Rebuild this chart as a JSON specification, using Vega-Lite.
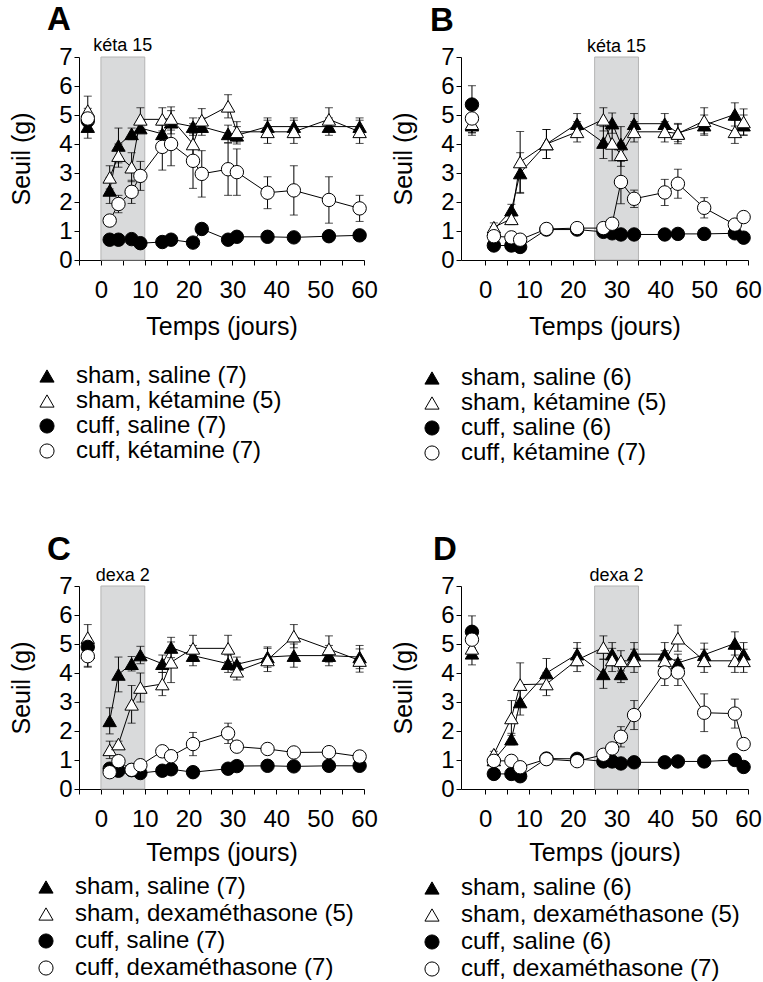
{
"$schema": "https://vega.github.io/schema/vega-lite/v6.json",
"background": "white",
"padding": {"left": 9, "top": 4, "right": 2, "bottom": 2},
"bounds": "flush",
"columns": 2,
"spacing": {"row": 326, "column": 97},
"config": {
  "view": {"stroke": null},
  "font": "Liberation Sans",
  "axis": {"grid": false, "domainColor": "black", "tickColor": "black", "labelColor": "black", "titleColor": "black", "labelFont": "Liberation Sans", "titleFont": "Liberation Sans", "labelFontSize": 24, "titleFontSize": 25, "titleFontWeight": "normal", "domainWidth": 1, "tickWidth": 1, "tickSize": 5, "labelOverlap": false, "labelFlush": false},
  "axisX": {"labelPadding": 13, "titlePadding": 12},
  "axisY": {"labelPadding": 2, "titlePadding": 24},
  "legend": {"labelFont": "Liberation Sans", "labelFontSize": 24, "labelColor": "black", "symbolSize": 200, "symbolStrokeColor": "black", "symbolStrokeWidth": 1, "symbolOpacity": 1, "labelOffset": 17, "rowPadding": 3, "padding": 0, "labelLimit": 500},
  "title": {"font": "Liberation Sans", "fontSize": 33, "fontWeight": "bold", "color": "black", "anchor": "start", "frame": "group", "offset": 0}
},
"datasets": {
  "A": [
    {"s":"sham, saline (7)","d":-3,"v":4.6,"e":0.4},{"s":"sham, saline (7)","d":2,"v":2.4,"e":0.45},{"s":"sham, saline (7)","d":4,"v":3.95,"e":0.6},{"s":"sham, saline (7)","d":7,"v":4.35,"e":0.2},{"s":"sham, saline (7)","d":9,"v":4.55,"e":0.15},{"s":"sham, saline (7)","d":14,"v":4.35,"e":0.3},{"s":"sham, saline (7)","d":16,"v":4.75,"e":0.4},{"s":"sham, saline (7)","d":21,"v":4.6,"e":0.3},{"s":"sham, saline (7)","d":23,"v":4.6,"e":0.3},{"s":"sham, saline (7)","d":29,"v":4.35,"e":0.3},{"s":"sham, saline (7)","d":31,"v":4.3,"e":0.3},{"s":"sham, saline (7)","d":38,"v":4.6,"e":0.3},{"s":"sham, saline (7)","d":44,"v":4.6,"e":0.3},{"s":"sham, saline (7)","d":52,"v":4.6,"e":0.3},{"s":"sham, saline (7)","d":59,"v":4.6,"e":0.3},
    {"s":"sham, kétamine (5)","d":-3,"v":5.15,"e":0.5},{"s":"sham, kétamine (5)","d":2,"v":2.85,"e":0.4},{"s":"sham, kétamine (5)","d":4,"v":3.6,"e":0.4},{"s":"sham, kétamine (5)","d":7,"v":3.2,"e":0.5},{"s":"sham, kétamine (5)","d":9,"v":4.85,"e":0.4},{"s":"sham, kétamine (5)","d":14,"v":4.85,"e":0.4},{"s":"sham, kétamine (5)","d":16,"v":4.88,"e":0.4},{"s":"sham, kétamine (5)","d":21,"v":4.0,"e":0.7},{"s":"sham, kétamine (5)","d":23,"v":4.82,"e":0.4},{"s":"sham, kétamine (5)","d":29,"v":5.3,"e":0.4},{"s":"sham, kétamine (5)","d":31,"v":4.42,"e":0.35},{"s":"sham, kétamine (5)","d":38,"v":4.42,"e":0.4},{"s":"sham, kétamine (5)","d":44,"v":4.42,"e":0.4},{"s":"sham, kétamine (5)","d":52,"v":4.85,"e":0.4},{"s":"sham, kétamine (5)","d":59,"v":4.42,"e":0.4},
    {"s":"cuff, saline (7)","d":-3,"v":4.8,"e":0.1},{"s":"cuff, saline (7)","d":2,"v":0.7,"e":0.1},{"s":"cuff, saline (7)","d":4,"v":0.7,"e":0.1},{"s":"cuff, saline (7)","d":7,"v":0.72,"e":0.1},{"s":"cuff, saline (7)","d":9,"v":0.58,"e":0.1},{"s":"cuff, saline (7)","d":14,"v":0.62,"e":0.1},{"s":"cuff, saline (7)","d":16,"v":0.7,"e":0.1},{"s":"cuff, saline (7)","d":21,"v":0.6,"e":0.1},{"s":"cuff, saline (7)","d":23,"v":1.07,"e":0.1},{"s":"cuff, saline (7)","d":29,"v":0.7,"e":0.1},{"s":"cuff, saline (7)","d":31,"v":0.8,"e":0.1},{"s":"cuff, saline (7)","d":38,"v":0.8,"e":0.1},{"s":"cuff, saline (7)","d":44,"v":0.78,"e":0.1},{"s":"cuff, saline (7)","d":52,"v":0.82,"e":0.1},{"s":"cuff, saline (7)","d":59,"v":0.85,"e":0.1},
    {"s":"cuff, kétamine (7)","d":-3,"v":4.88,"e":0.35},{"s":"cuff, kétamine (7)","d":2,"v":1.36,"e":0.15},{"s":"cuff, kétamine (7)","d":4,"v":1.93,"e":0.3},{"s":"cuff, kétamine (7)","d":7,"v":2.35,"e":0.4},{"s":"cuff, kétamine (7)","d":9,"v":2.9,"e":0.5},{"s":"cuff, kétamine (7)","d":14,"v":3.9,"e":0.8},{"s":"cuff, kétamine (7)","d":16,"v":4.0,"e":0.75},{"s":"cuff, kétamine (7)","d":21,"v":3.42,"e":0.95},{"s":"cuff, kétamine (7)","d":23,"v":2.97,"e":0.8},{"s":"cuff, kétamine (7)","d":29,"v":3.13,"e":0.9},{"s":"cuff, kétamine (7)","d":31,"v":3.03,"e":0.8},{"s":"cuff, kétamine (7)","d":38,"v":2.32,"e":0.55},{"s":"cuff, kétamine (7)","d":44,"v":2.4,"e":0.85},{"s":"cuff, kétamine (7)","d":52,"v":2.07,"e":0.8},{"s":"cuff, kétamine (7)","d":59,"v":1.78,"e":0.45}
  ],
  "B": [
    {"s":"sham, saline (6)","d":-3,"v":4.65,"e":0.35},{"s":"sham, saline (6)","d":2,"v":1.05,"e":0.1},{"s":"sham, saline (6)","d":6,"v":1.72,"e":0.2},{"s":"sham, saline (6)","d":8,"v":3.0,"e":0.7},{"s":"sham, saline (6)","d":14,"v":4.0,"e":0.5},{"s":"sham, saline (6)","d":21,"v":4.7,"e":0.35},{"s":"sham, saline (6)","d":27,"v":4.05,"e":0.55},{"s":"sham, saline (6)","d":29,"v":4.72,"e":0.35},{"s":"sham, saline (6)","d":31,"v":4.0,"e":0.6},{"s":"sham, saline (6)","d":34,"v":4.7,"e":0.35},{"s":"sham, saline (6)","d":41,"v":4.7,"e":0.35},{"s":"sham, saline (6)","d":44,"v":4.38,"e":0.3},{"s":"sham, saline (6)","d":50,"v":4.65,"e":0.35},{"s":"sham, saline (6)","d":57,"v":5.02,"e":0.4},{"s":"sham, saline (6)","d":59,"v":4.65,"e":0.35},
    {"s":"sham, kétamine (5)","d":-3,"v":4.7,"e":0.3},{"s":"sham, kétamine (5)","d":2,"v":1.13,"e":0.15},{"s":"sham, kétamine (5)","d":6,"v":1.42,"e":0.2},{"s":"sham, kétamine (5)","d":8,"v":3.38,"e":1.05},{"s":"sham, kétamine (5)","d":14,"v":4.0,"e":0.5},{"s":"sham, kétamine (5)","d":21,"v":4.42,"e":0.35},{"s":"sham, kétamine (5)","d":27,"v":4.85,"e":0.4},{"s":"sham, kétamine (5)","d":29,"v":4.02,"e":0.6},{"s":"sham, kétamine (5)","d":31,"v":3.63,"e":0.4},{"s":"sham, kétamine (5)","d":34,"v":4.42,"e":0.35},{"s":"sham, kétamine (5)","d":41,"v":4.42,"e":0.35},{"s":"sham, kétamine (5)","d":44,"v":4.36,"e":0.35},{"s":"sham, kétamine (5)","d":50,"v":4.8,"e":0.45},{"s":"sham, kétamine (5)","d":57,"v":4.42,"e":0.4},{"s":"sham, kétamine (5)","d":59,"v":4.76,"e":0.45},
    {"s":"cuff, saline (6)","d":-3,"v":5.36,"e":0.65},{"s":"cuff, saline (6)","d":2,"v":0.5,"e":0.1},{"s":"cuff, saline (6)","d":6,"v":0.5,"e":0.1},{"s":"cuff, saline (6)","d":8,"v":0.45,"e":0.1},{"s":"cuff, saline (6)","d":14,"v":1.05,"e":0.1},{"s":"cuff, saline (6)","d":21,"v":1.05,"e":0.1},{"s":"cuff, saline (6)","d":27,"v":0.97,"e":0.1},{"s":"cuff, saline (6)","d":29,"v":0.92,"e":0.1},{"s":"cuff, saline (6)","d":31,"v":0.88,"e":0.1},{"s":"cuff, saline (6)","d":34,"v":0.88,"e":0.1},{"s":"cuff, saline (6)","d":41,"v":0.88,"e":0.1},{"s":"cuff, saline (6)","d":44,"v":0.9,"e":0.1},{"s":"cuff, saline (6)","d":50,"v":0.9,"e":0.1},{"s":"cuff, saline (6)","d":57,"v":0.92,"e":0.1},{"s":"cuff, saline (6)","d":59,"v":0.77,"e":0.1},
    {"s":"cuff, kétamine (7)","d":-3,"v":4.88,"e":0.5},{"s":"cuff, kétamine (7)","d":2,"v":0.82,"e":0.1},{"s":"cuff, kétamine (7)","d":6,"v":0.78,"e":0.1},{"s":"cuff, kétamine (7)","d":8,"v":0.7,"e":0.1},{"s":"cuff, kétamine (7)","d":14,"v":1.07,"e":0.1},{"s":"cuff, kétamine (7)","d":21,"v":1.1,"e":0.1},{"s":"cuff, kétamine (7)","d":27,"v":1.1,"e":0.1},{"s":"cuff, kétamine (7)","d":29,"v":1.25,"e":0.1},{"s":"cuff, kétamine (7)","d":31,"v":2.69,"e":0.75},{"s":"cuff, kétamine (7)","d":34,"v":2.11,"e":0.3},{"s":"cuff, kétamine (7)","d":41,"v":2.33,"e":0.45},{"s":"cuff, kétamine (7)","d":44,"v":2.63,"e":0.5},{"s":"cuff, kétamine (7)","d":50,"v":1.8,"e":0.35},{"s":"cuff, kétamine (7)","d":57,"v":1.22,"e":0.1},{"s":"cuff, kétamine (7)","d":59,"v":1.48,"e":0.1}
  ],
  "C": [
    {"s":"sham, saline (7)","d":-3,"v":4.7,"e":0.5},{"s":"sham, saline (7)","d":2,"v":2.35,"e":0.45},{"s":"sham, saline (7)","d":4,"v":3.95,"e":0.6},{"s":"sham, saline (7)","d":7,"v":4.32,"e":0.25},{"s":"sham, saline (7)","d":9,"v":4.62,"e":0.3},{"s":"sham, saline (7)","d":14,"v":4.32,"e":0.3},{"s":"sham, saline (7)","d":16,"v":4.88,"e":0.35},{"s":"sham, saline (7)","d":21,"v":4.6,"e":0.35},{"s":"sham, saline (7)","d":29,"v":4.32,"e":0.3},{"s":"sham, saline (7)","d":31,"v":4.3,"e":0.25},{"s":"sham, saline (7)","d":38,"v":4.55,"e":0.35},{"s":"sham, saline (7)","d":44,"v":4.6,"e":0.4},{"s":"sham, saline (7)","d":52,"v":4.6,"e":0.35},{"s":"sham, saline (7)","d":59,"v":4.55,"e":0.4},
    {"s":"sham, dexaméthasone (5)","d":-3,"v":5.22,"e":0.45},{"s":"sham, dexaméthasone (5)","d":2,"v":1.35,"e":0.3},{"s":"sham, dexaméthasone (5)","d":4,"v":1.55,"e":0.1},{"s":"sham, dexaméthasone (5)","d":7,"v":2.92,"e":0.65},{"s":"sham, dexaméthasone (5)","d":9,"v":3.5,"e":0.5},{"s":"sham, dexaméthasone (5)","d":14,"v":3.62,"e":0.4},{"s":"sham, dexaméthasone (5)","d":16,"v":4.37,"e":0.7},{"s":"sham, dexaméthasone (5)","d":21,"v":4.85,"e":0.45},{"s":"sham, dexaméthasone (5)","d":29,"v":4.85,"e":0.45},{"s":"sham, dexaméthasone (5)","d":31,"v":4.06,"e":0.3},{"s":"sham, dexaméthasone (5)","d":38,"v":4.45,"e":0.4},{"s":"sham, dexaméthasone (5)","d":44,"v":5.27,"e":0.4},{"s":"sham, dexaméthasone (5)","d":52,"v":4.83,"e":0.45},{"s":"sham, dexaméthasone (5)","d":59,"v":4.43,"e":0.4},
    {"s":"cuff, saline (7)","d":-3,"v":4.9,"e":0.3},{"s":"cuff, saline (7)","d":2,"v":0.7,"e":0.1},{"s":"cuff, saline (7)","d":4,"v":0.63,"e":0.1},{"s":"cuff, saline (7)","d":7,"v":0.65,"e":0.1},{"s":"cuff, saline (7)","d":9,"v":0.55,"e":0.1},{"s":"cuff, saline (7)","d":14,"v":0.63,"e":0.1},{"s":"cuff, saline (7)","d":16,"v":0.68,"e":0.1},{"s":"cuff, saline (7)","d":21,"v":0.58,"e":0.1},{"s":"cuff, saline (7)","d":29,"v":0.7,"e":0.1},{"s":"cuff, saline (7)","d":31,"v":0.79,"e":0.1},{"s":"cuff, saline (7)","d":38,"v":0.8,"e":0.1},{"s":"cuff, saline (7)","d":44,"v":0.78,"e":0.1},{"s":"cuff, saline (7)","d":52,"v":0.8,"e":0.1},{"s":"cuff, saline (7)","d":59,"v":0.8,"e":0.1},
    {"s":"cuff, dexaméthasone (7)","d":-3,"v":4.58,"e":0.35},{"s":"cuff, dexaméthasone (7)","d":2,"v":0.58,"e":0.1},{"s":"cuff, dexaméthasone (7)","d":4,"v":0.96,"e":0.1},{"s":"cuff, dexaméthasone (7)","d":7,"v":0.66,"e":0.1},{"s":"cuff, dexaméthasone (7)","d":9,"v":0.82,"e":0.1},{"s":"cuff, dexaméthasone (7)","d":14,"v":1.3,"e":0.1},{"s":"cuff, dexaméthasone (7)","d":16,"v":1.13,"e":0.1},{"s":"cuff, dexaméthasone (7)","d":21,"v":1.55,"e":0.4},{"s":"cuff, dexaméthasone (7)","d":29,"v":1.92,"e":0.35},{"s":"cuff, dexaméthasone (7)","d":31,"v":1.46,"e":0.1},{"s":"cuff, dexaméthasone (7)","d":38,"v":1.38,"e":0.1},{"s":"cuff, dexaméthasone (7)","d":44,"v":1.26,"e":0.1},{"s":"cuff, dexaméthasone (7)","d":52,"v":1.27,"e":0.1},{"s":"cuff, dexaméthasone (7)","d":59,"v":1.12,"e":0.1}
  ],
  "D": [
    {"s":"sham, saline (6)","d":-3,"v":4.68,"e":0.4},{"s":"sham, saline (6)","d":2,"v":1.0,"e":0.1},{"s":"sham, saline (6)","d":6,"v":1.72,"e":0.2},{"s":"sham, saline (6)","d":8,"v":3.0,"e":0.45},{"s":"sham, saline (6)","d":14,"v":4.0,"e":0.5},{"s":"sham, saline (6)","d":21,"v":4.65,"e":0.4},{"s":"sham, saline (6)","d":27,"v":3.97,"e":0.5},{"s":"sham, saline (6)","d":29,"v":4.65,"e":0.4},{"s":"sham, saline (6)","d":31,"v":3.97,"e":0.3},{"s":"sham, saline (6)","d":34,"v":4.65,"e":0.4},{"s":"sham, saline (6)","d":41,"v":4.65,"e":0.4},{"s":"sham, saline (6)","d":44,"v":4.35,"e":0.3},{"s":"sham, saline (6)","d":50,"v":4.63,"e":0.4},{"s":"sham, saline (6)","d":57,"v":5.02,"e":0.4},{"s":"sham, saline (6)","d":59,"v":4.65,"e":0.4},
    {"s":"sham, dexaméthasone (5)","d":-3,"v":4.85,"e":0.3},{"s":"sham, dexaméthasone (5)","d":2,"v":1.2,"e":0.1},{"s":"sham, dexaméthasone (5)","d":6,"v":2.45,"e":0.6},{"s":"sham, dexaméthasone (5)","d":8,"v":3.6,"e":0.75},{"s":"sham, dexaméthasone (5)","d":14,"v":3.62,"e":0.4},{"s":"sham, dexaméthasone (5)","d":21,"v":4.45,"e":0.4},{"s":"sham, dexaméthasone (5)","d":27,"v":4.88,"e":0.4},{"s":"sham, dexaméthasone (5)","d":29,"v":4.45,"e":0.4},{"s":"sham, dexaméthasone (5)","d":31,"v":4.42,"e":0.35},{"s":"sham, dexaméthasone (5)","d":34,"v":4.42,"e":0.4},{"s":"sham, dexaméthasone (5)","d":41,"v":4.42,"e":0.35},{"s":"sham, dexaméthasone (5)","d":44,"v":5.2,"e":0.45},{"s":"sham, dexaméthasone (5)","d":50,"v":4.42,"e":0.4},{"s":"sham, dexaméthasone (5)","d":57,"v":4.42,"e":0.4},{"s":"sham, dexaméthasone (5)","d":59,"v":4.42,"e":0.4},
    {"s":"cuff, saline (6)","d":-3,"v":5.42,"e":0.55},{"s":"cuff, saline (6)","d":2,"v":0.52,"e":0.1},{"s":"cuff, saline (6)","d":6,"v":0.52,"e":0.1},{"s":"cuff, saline (6)","d":8,"v":0.44,"e":0.1},{"s":"cuff, saline (6)","d":14,"v":1.05,"e":0.1},{"s":"cuff, saline (6)","d":21,"v":1.04,"e":0.1},{"s":"cuff, saline (6)","d":27,"v":0.95,"e":0.1},{"s":"cuff, saline (6)","d":29,"v":0.95,"e":0.1},{"s":"cuff, saline (6)","d":31,"v":0.88,"e":0.1},{"s":"cuff, saline (6)","d":34,"v":0.92,"e":0.1},{"s":"cuff, saline (6)","d":41,"v":0.92,"e":0.1},{"s":"cuff, saline (6)","d":44,"v":0.95,"e":0.1},{"s":"cuff, saline (6)","d":50,"v":0.95,"e":0.1},{"s":"cuff, saline (6)","d":57,"v":1.0,"e":0.1},{"s":"cuff, saline (6)","d":59,"v":0.76,"e":0.1},
    {"s":"cuff, dexaméthasone (7)","d":-3,"v":5.15,"e":0.3},{"s":"cuff, dexaméthasone (7)","d":2,"v":0.97,"e":0.1},{"s":"cuff, dexaméthasone (7)","d":6,"v":0.97,"e":0.1},{"s":"cuff, dexaméthasone (7)","d":8,"v":0.75,"e":0.1},{"s":"cuff, dexaméthasone (7)","d":14,"v":1.03,"e":0.1},{"s":"cuff, dexaméthasone (7)","d":21,"v":0.96,"e":0.1},{"s":"cuff, dexaméthasone (7)","d":27,"v":1.18,"e":0.1},{"s":"cuff, dexaméthasone (7)","d":29,"v":1.4,"e":0.1},{"s":"cuff, dexaméthasone (7)","d":31,"v":1.8,"e":0.35},{"s":"cuff, dexaméthasone (7)","d":34,"v":2.55,"e":0.5},{"s":"cuff, dexaméthasone (7)","d":41,"v":4.02,"e":0.45},{"s":"cuff, dexaméthasone (7)","d":44,"v":4.02,"e":0.45},{"s":"cuff, dexaméthasone (7)","d":50,"v":2.63,"e":0.65},{"s":"cuff, dexaméthasone (7)","d":57,"v":2.6,"e":0.5},{"s":"cuff, dexaméthasone (7)","d":59,"v":1.55,"e":0.1}
  ]
},
"concat": [
  {
    "width": 285, "height": 203,
    "title": {"text": "A", "dx": -32, "dy": 4},
    "layer": [
      {"data": {"values": [{"start": 0, "end": 10, "mid": 5, "label": "kéta 15"}]},
       "mark": {"type": "rect", "fill": "#d9dadb", "stroke": "#b4b4b4", "strokeWidth": 1},
       "encoding": {"x": {"field": "start", "type": "quantitative", "title": "Temps (jours)", "scale": {"domain": [-5, 60], "nice": false, "zero": false}, "axis": {"values": [-5,0,5,10,15,20,25,30,35,40,45,50,55,60], "labelOverlap": false, "labelFlush": false, "labelExpr": "datum.value % 10 == 0 ? datum.label : ''"}},
                    "x2": {"field": "end"},
                    "y": {"datum": 0, "type": "quantitative", "title": "Seuil (g)", "scale": {"domain": [0, 7], "nice": false}, "axis": {"values": [0,1,2,3,4,5,6,7], "labelOverlap": false, "labelFlush": false}},
                    "y2": {"datum": 7}}},
      {"data": {"values": [{"start": 0, "end": 10, "mid": 5, "label": "kéta 15"}]},
       "mark": {"type": "text", "baseline": "alphabetic", "dy": -6, "fontSize": 18, "font": "Liberation Sans", "color": "black"},
       "encoding": {"x": {"field": "mid", "type": "quantitative", "title": "Temps (jours)", "scale": {"domain": [-5, 60], "nice": false, "zero": false}, "axis": {"values": [-5,0,5,10,15,20,25,30,35,40,45,50,55,60], "labelOverlap": false, "labelFlush": false, "labelExpr": "datum.value % 10 == 0 ? datum.label : ''"}},
                    "y": {"datum": 7, "type": "quantitative", "title": "Seuil (g)", "scale": {"domain": [0, 7], "nice": false}, "axis": {"values": [0,1,2,3,4,5,6,7], "labelOverlap": false, "labelFlush": false}},
                    "text": {"field": "label"}}},
      {"data": {"name": "A"}, "transform": [{"filter": "datum.d > 0"}],
       "mark": {"type": "line", "color": "black", "strokeWidth": 1},
       "encoding": {"x": {"field": "d", "type": "quantitative", "title": "Temps (jours)", "scale": {"domain": [-5, 60], "nice": false, "zero": false}, "axis": {"values": [-5,0,5,10,15,20,25,30,35,40,45,50,55,60], "labelOverlap": false, "labelFlush": false, "labelExpr": "datum.value % 10 == 0 ? datum.label : ''"}},
                    "y": {"field": "v", "type": "quantitative", "title": "Seuil (g)", "scale": {"domain": [0, 7], "nice": false}, "axis": {"values": [0,1,2,3,4,5,6,7], "labelOverlap": false, "labelFlush": false}},
                    "detail": {"field": "s"}}},
      {"data": {"name": "A"},
       "mark": {"type": "errorbar", "color": "black", "rule": {"strokeWidth": 1, "color": "black"}, "ticks": {"size": 8, "color": "black", "strokeWidth": 1}},
       "encoding": {"x": {"field": "d", "type": "quantitative", "title": "Temps (jours)", "scale": {"domain": [-5, 60], "nice": false, "zero": false}, "axis": {"values": [-5,0,5,10,15,20,25,30,35,40,45,50,55,60], "labelOverlap": false, "labelFlush": false, "labelExpr": "datum.value % 10 == 0 ? datum.label : ''"}},
                    "y": {"field": "v", "type": "quantitative", "title": "Seuil (g)", "scale": {"domain": [0, 7], "nice": false}, "axis": {"values": [0,1,2,3,4,5,6,7], "labelOverlap": false, "labelFlush": false}},
                    "yError": {"field": "e"}}},
      {"data": {"name": "A"},
       "mark": {"type": "point", "size": 180, "stroke": "black", "strokeWidth": 1, "opacity": 1, "fillOpacity": 1},
       "encoding": {"x": {"field": "d", "type": "quantitative", "title": "Temps (jours)", "scale": {"domain": [-5, 60], "nice": false, "zero": false}, "axis": {"values": [-5,0,5,10,15,20,25,30,35,40,45,50,55,60], "labelOverlap": false, "labelFlush": false, "labelExpr": "datum.value % 10 == 0 ? datum.label : ''"}},
                    "y": {"field": "v", "type": "quantitative", "title": "Seuil (g)", "scale": {"domain": [0, 7], "nice": false}, "axis": {"values": [0,1,2,3,4,5,6,7], "labelOverlap": false, "labelFlush": false}},
                    "shape": {"field": "s", "type": "nominal", "scale": {"domain": ["sham, saline (7)", "sham, kétamine (5)", "cuff, saline (7)", "cuff, kétamine (7)"], "range": ["triangle-up", "triangle-up", "circle", "circle"]}, "legend": {"title": null, "orient": "none", "legendX": -44, "legendY": 307, "rowPadding": 1, "symbolStrokeColor": "black", "encode": {"symbols": {"update": {"stroke": {"value": "black"}, "strokeWidth": {"value": 1}}}}}},
                    "fill": {"field": "s", "type": "nominal", "scale": {"domain": ["sham, saline (7)", "sham, kétamine (5)", "cuff, saline (7)", "cuff, kétamine (7)"], "range": ["black", "white", "black", "white"]}, "legend": {"title": null, "orient": "none", "legendX": -44, "legendY": 307, "rowPadding": 1, "symbolStrokeColor": "black", "encode": {"symbols": {"update": {"stroke": {"value": "black"}, "strokeWidth": {"value": 1}}}}}}}}
    ]
  },
  {
    "width": 287, "height": 203,
    "title": {"text": "B", "dx": -31, "dy": 4},
    "layer": [
      {"data": {"values": [{"start": 25, "end": 35, "mid": 30, "label": "kéta 15"}]},
       "mark": {"type": "rect", "fill": "#d9dadb", "stroke": "#b4b4b4", "strokeWidth": 1},
       "encoding": {"x": {"field": "start", "type": "quantitative", "title": "Temps (jours)", "scale": {"domain": [-5.5, 60], "nice": false, "zero": false}, "axis": {"values": [0,5,10,15,20,25,30,35,40,45,50,55,60], "labelOverlap": false, "labelFlush": false, "labelExpr": "datum.value % 10 == 0 ? datum.label : ''"}},
                    "x2": {"field": "end"},
                    "y": {"datum": 0, "type": "quantitative", "title": "Seuil (g)", "scale": {"domain": [0, 7], "nice": false}, "axis": {"values": [0,1,2,3,4,5,6,7], "labelOverlap": false, "labelFlush": false}},
                    "y2": {"datum": 7}}},
      {"data": {"values": [{"start": 25, "end": 35, "mid": 30, "label": "kéta 15"}]},
       "mark": {"type": "text", "baseline": "alphabetic", "dy": -5, "fontSize": 18, "font": "Liberation Sans", "color": "black"},
       "encoding": {"x": {"field": "mid", "type": "quantitative", "title": "Temps (jours)", "scale": {"domain": [-5.5, 60], "nice": false, "zero": false}, "axis": {"values": [0,5,10,15,20,25,30,35,40,45,50,55,60], "labelOverlap": false, "labelFlush": false, "labelExpr": "datum.value % 10 == 0 ? datum.label : ''"}},
                    "y": {"datum": 7, "type": "quantitative", "title": "Seuil (g)", "scale": {"domain": [0, 7], "nice": false}, "axis": {"values": [0,1,2,3,4,5,6,7], "labelOverlap": false, "labelFlush": false}},
                    "text": {"field": "label"}}},
      {"data": {"name": "B"}, "transform": [{"filter": "datum.d > 0"}],
       "mark": {"type": "line", "color": "black", "strokeWidth": 1},
       "encoding": {"x": {"field": "d", "type": "quantitative", "title": "Temps (jours)", "scale": {"domain": [-5.5, 60], "nice": false, "zero": false}, "axis": {"values": [0,5,10,15,20,25,30,35,40,45,50,55,60], "labelOverlap": false, "labelFlush": false, "labelExpr": "datum.value % 10 == 0 ? datum.label : ''"}},
                    "y": {"field": "v", "type": "quantitative", "title": "Seuil (g)", "scale": {"domain": [0, 7], "nice": false}, "axis": {"values": [0,1,2,3,4,5,6,7], "labelOverlap": false, "labelFlush": false}},
                    "detail": {"field": "s"}}},
      {"data": {"name": "B"},
       "mark": {"type": "errorbar", "color": "black", "rule": {"strokeWidth": 1, "color": "black"}, "ticks": {"size": 8, "color": "black", "strokeWidth": 1}},
       "encoding": {"x": {"field": "d", "type": "quantitative", "title": "Temps (jours)", "scale": {"domain": [-5.5, 60], "nice": false, "zero": false}, "axis": {"values": [0,5,10,15,20,25,30,35,40,45,50,55,60], "labelOverlap": false, "labelFlush": false, "labelExpr": "datum.value % 10 == 0 ? datum.label : ''"}},
                    "y": {"field": "v", "type": "quantitative", "title": "Seuil (g)", "scale": {"domain": [0, 7], "nice": false}, "axis": {"values": [0,1,2,3,4,5,6,7], "labelOverlap": false, "labelFlush": false}},
                    "yError": {"field": "e"}}},
      {"data": {"name": "B"},
       "mark": {"type": "point", "size": 180, "stroke": "black", "strokeWidth": 1, "opacity": 1, "fillOpacity": 1},
       "encoding": {"x": {"field": "d", "type": "quantitative", "title": "Temps (jours)", "scale": {"domain": [-5.5, 60], "nice": false, "zero": false}, "axis": {"values": [0,5,10,15,20,25,30,35,40,45,50,55,60], "labelOverlap": false, "labelFlush": false, "labelExpr": "datum.value % 10 == 0 ? datum.label : ''"}},
                    "y": {"field": "v", "type": "quantitative", "title": "Seuil (g)", "scale": {"domain": [0, 7], "nice": false}, "axis": {"values": [0,1,2,3,4,5,6,7], "labelOverlap": false, "labelFlush": false}},
                    "shape": {"field": "s", "type": "nominal", "scale": {"domain": ["sham, saline (6)", "sham, kétamine (5)", "cuff, saline (6)", "cuff, kétamine (7)"], "range": ["triangle-up", "triangle-up", "circle", "circle"]}, "legend": {"title": null, "orient": "none", "legendX": -41, "legendY": 309, "rowPadding": 1, "symbolStrokeColor": "black", "encode": {"symbols": {"update": {"stroke": {"value": "black"}, "strokeWidth": {"value": 1}}}}}},
                    "fill": {"field": "s", "type": "nominal", "scale": {"domain": ["sham, saline (6)", "sham, kétamine (5)", "cuff, saline (6)", "cuff, kétamine (7)"], "range": ["black", "white", "black", "white"]}, "legend": {"title": null, "orient": "none", "legendX": -41, "legendY": 309, "rowPadding": 1, "symbolStrokeColor": "black", "encode": {"symbols": {"update": {"stroke": {"value": "black"}, "strokeWidth": {"value": 1}}}}}}}}
    ]
  },
  {
    "width": 285, "height": 203,
    "title": {"text": "C", "dx": -32, "dy": 4},
    "layer": [
      {"data": {"values": [{"start": 0, "end": 10, "mid": 5, "label": "dexa 2"}]},
       "mark": {"type": "rect", "fill": "#d9dadb", "stroke": "#b4b4b4", "strokeWidth": 1},
       "encoding": {"x": {"field": "start", "type": "quantitative", "title": "Temps (jours)", "scale": {"domain": [-5, 60], "nice": false, "zero": false}, "axis": {"values": [-5,0,5,10,15,20,25,30,35,40,45,50,55,60], "labelOverlap": false, "labelFlush": false, "labelExpr": "datum.value % 10 == 0 ? datum.label : ''", "titlePadding": 9}},
                    "x2": {"field": "end"},
                    "y": {"datum": 0, "type": "quantitative", "title": "Seuil (g)", "scale": {"domain": [0, 7], "nice": false}, "axis": {"values": [0,1,2,3,4,5,6,7], "labelOverlap": false, "labelFlush": false}},
                    "y2": {"datum": 7}}},
      {"data": {"values": [{"start": 0, "end": 10, "mid": 5, "label": "dexa 2"}]},
       "mark": {"type": "text", "baseline": "alphabetic", "dy": -5, "fontSize": 18, "font": "Liberation Sans", "color": "black"},
       "encoding": {"x": {"field": "mid", "type": "quantitative", "title": "Temps (jours)", "scale": {"domain": [-5, 60], "nice": false, "zero": false}, "axis": {"values": [-5,0,5,10,15,20,25,30,35,40,45,50,55,60], "labelOverlap": false, "labelFlush": false, "labelExpr": "datum.value % 10 == 0 ? datum.label : ''", "titlePadding": 9}},
                    "y": {"datum": 7, "type": "quantitative", "title": "Seuil (g)", "scale": {"domain": [0, 7], "nice": false}, "axis": {"values": [0,1,2,3,4,5,6,7], "labelOverlap": false, "labelFlush": false}},
                    "text": {"field": "label"}}},
      {"data": {"name": "C"}, "transform": [{"filter": "datum.d > 0"}],
       "mark": {"type": "line", "color": "black", "strokeWidth": 1},
       "encoding": {"x": {"field": "d", "type": "quantitative", "title": "Temps (jours)", "scale": {"domain": [-5, 60], "nice": false, "zero": false}, "axis": {"values": [-5,0,5,10,15,20,25,30,35,40,45,50,55,60], "labelOverlap": false, "labelFlush": false, "labelExpr": "datum.value % 10 == 0 ? datum.label : ''", "titlePadding": 9}},
                    "y": {"field": "v", "type": "quantitative", "title": "Seuil (g)", "scale": {"domain": [0, 7], "nice": false}, "axis": {"values": [0,1,2,3,4,5,6,7], "labelOverlap": false, "labelFlush": false}},
                    "detail": {"field": "s"}}},
      {"data": {"name": "C"},
       "mark": {"type": "errorbar", "color": "black", "rule": {"strokeWidth": 1, "color": "black"}, "ticks": {"size": 8, "color": "black", "strokeWidth": 1}},
       "encoding": {"x": {"field": "d", "type": "quantitative", "title": "Temps (jours)", "scale": {"domain": [-5, 60], "nice": false, "zero": false}, "axis": {"values": [-5,0,5,10,15,20,25,30,35,40,45,50,55,60], "labelOverlap": false, "labelFlush": false, "labelExpr": "datum.value % 10 == 0 ? datum.label : ''", "titlePadding": 9}},
                    "y": {"field": "v", "type": "quantitative", "title": "Seuil (g)", "scale": {"domain": [0, 7], "nice": false}, "axis": {"values": [0,1,2,3,4,5,6,7], "labelOverlap": false, "labelFlush": false}},
                    "yError": {"field": "e"}}},
      {"data": {"name": "C"},
       "mark": {"type": "point", "size": 180, "stroke": "black", "strokeWidth": 1, "opacity": 1, "fillOpacity": 1},
       "encoding": {"x": {"field": "d", "type": "quantitative", "title": "Temps (jours)", "scale": {"domain": [-5, 60], "nice": false, "zero": false}, "axis": {"values": [-5,0,5,10,15,20,25,30,35,40,45,50,55,60], "labelOverlap": false, "labelFlush": false, "labelExpr": "datum.value % 10 == 0 ? datum.label : ''", "titlePadding": 9}},
                    "y": {"field": "v", "type": "quantitative", "title": "Seuil (g)", "scale": {"domain": [0, 7], "nice": false}, "axis": {"values": [0,1,2,3,4,5,6,7], "labelOverlap": false, "labelFlush": false}},
                    "shape": {"field": "s", "type": "nominal", "scale": {"domain": ["sham, saline (7)", "sham, dexaméthasone (5)", "cuff, saline (7)", "cuff, dexaméthasone (7)"], "range": ["triangle-up", "triangle-up", "circle", "circle"]}, "legend": {"title": null, "orient": "none", "legendX": -45, "legendY": 289, "symbolStrokeColor": "black", "encode": {"symbols": {"update": {"stroke": {"value": "black"}, "strokeWidth": {"value": 1}}}}}},
                    "fill": {"field": "s", "type": "nominal", "scale": {"domain": ["sham, saline (7)", "sham, dexaméthasone (5)", "cuff, saline (7)", "cuff, dexaméthasone (7)"], "range": ["black", "white", "black", "white"]}, "legend": {"title": null, "orient": "none", "legendX": -45, "legendY": 289, "symbolStrokeColor": "black", "encode": {"symbols": {"update": {"stroke": {"value": "black"}, "strokeWidth": {"value": 1}}}}}}}}
    ]
  },
  {
    "width": 287, "height": 203,
    "title": {"text": "D", "dx": -28, "dy": 4},
    "layer": [
      {"data": {"values": [{"start": 25, "end": 35, "mid": 30, "label": "dexa 2"}]},
       "mark": {"type": "rect", "fill": "#d9dadb", "stroke": "#b4b4b4", "strokeWidth": 1},
       "encoding": {"x": {"field": "start", "type": "quantitative", "title": "Temps (jours)", "scale": {"domain": [-5.5, 60], "nice": false, "zero": false}, "axis": {"values": [0,5,10,15,20,25,30,35,40,45,50,55,60], "labelOverlap": false, "labelFlush": false, "labelExpr": "datum.value % 10 == 0 ? datum.label : ''", "titlePadding": 9}},
                    "x2": {"field": "end"},
                    "y": {"datum": 0, "type": "quantitative", "title": "Seuil (g)", "scale": {"domain": [0, 7], "nice": false}, "axis": {"values": [0,1,2,3,4,5,6,7], "labelOverlap": false, "labelFlush": false}},
                    "y2": {"datum": 7}}},
      {"data": {"values": [{"start": 25, "end": 35, "mid": 30, "label": "dexa 2"}]},
       "mark": {"type": "text", "baseline": "alphabetic", "dy": -5, "fontSize": 18, "font": "Liberation Sans", "color": "black"},
       "encoding": {"x": {"field": "mid", "type": "quantitative", "title": "Temps (jours)", "scale": {"domain": [-5.5, 60], "nice": false, "zero": false}, "axis": {"values": [0,5,10,15,20,25,30,35,40,45,50,55,60], "labelOverlap": false, "labelFlush": false, "labelExpr": "datum.value % 10 == 0 ? datum.label : ''", "titlePadding": 9}},
                    "y": {"datum": 7, "type": "quantitative", "title": "Seuil (g)", "scale": {"domain": [0, 7], "nice": false}, "axis": {"values": [0,1,2,3,4,5,6,7], "labelOverlap": false, "labelFlush": false}},
                    "text": {"field": "label"}}},
      {"data": {"name": "D"}, "transform": [{"filter": "datum.d > 0"}],
       "mark": {"type": "line", "color": "black", "strokeWidth": 1},
       "encoding": {"x": {"field": "d", "type": "quantitative", "title": "Temps (jours)", "scale": {"domain": [-5.5, 60], "nice": false, "zero": false}, "axis": {"values": [0,5,10,15,20,25,30,35,40,45,50,55,60], "labelOverlap": false, "labelFlush": false, "labelExpr": "datum.value % 10 == 0 ? datum.label : ''", "titlePadding": 9}},
                    "y": {"field": "v", "type": "quantitative", "title": "Seuil (g)", "scale": {"domain": [0, 7], "nice": false}, "axis": {"values": [0,1,2,3,4,5,6,7], "labelOverlap": false, "labelFlush": false}},
                    "detail": {"field": "s"}}},
      {"data": {"name": "D"},
       "mark": {"type": "errorbar", "color": "black", "rule": {"strokeWidth": 1, "color": "black"}, "ticks": {"size": 8, "color": "black", "strokeWidth": 1}},
       "encoding": {"x": {"field": "d", "type": "quantitative", "title": "Temps (jours)", "scale": {"domain": [-5.5, 60], "nice": false, "zero": false}, "axis": {"values": [0,5,10,15,20,25,30,35,40,45,50,55,60], "labelOverlap": false, "labelFlush": false, "labelExpr": "datum.value % 10 == 0 ? datum.label : ''", "titlePadding": 9}},
                    "y": {"field": "v", "type": "quantitative", "title": "Seuil (g)", "scale": {"domain": [0, 7], "nice": false}, "axis": {"values": [0,1,2,3,4,5,6,7], "labelOverlap": false, "labelFlush": false}},
                    "yError": {"field": "e"}}},
      {"data": {"name": "D"},
       "mark": {"type": "point", "size": 180, "stroke": "black", "strokeWidth": 1, "opacity": 1, "fillOpacity": 1},
       "encoding": {"x": {"field": "d", "type": "quantitative", "title": "Temps (jours)", "scale": {"domain": [-5.5, 60], "nice": false, "zero": false}, "axis": {"values": [0,5,10,15,20,25,30,35,40,45,50,55,60], "labelOverlap": false, "labelFlush": false, "labelExpr": "datum.value % 10 == 0 ? datum.label : ''", "titlePadding": 9}},
                    "y": {"field": "v", "type": "quantitative", "title": "Seuil (g)", "scale": {"domain": [0, 7], "nice": false}, "axis": {"values": [0,1,2,3,4,5,6,7], "labelOverlap": false, "labelFlush": false}},
                    "shape": {"field": "s", "type": "nominal", "scale": {"domain": ["sham, saline (6)", "sham, dexaméthasone (5)", "cuff, saline (6)", "cuff, dexaméthasone (7)"], "range": ["triangle-up", "triangle-up", "circle", "circle"]}, "legend": {"title": null, "orient": "none", "legendX": -41, "legendY": 290, "symbolStrokeColor": "black", "encode": {"symbols": {"update": {"stroke": {"value": "black"}, "strokeWidth": {"value": 1}}}}}},
                    "fill": {"field": "s", "type": "nominal", "scale": {"domain": ["sham, saline (6)", "sham, dexaméthasone (5)", "cuff, saline (6)", "cuff, dexaméthasone (7)"], "range": ["black", "white", "black", "white"]}, "legend": {"title": null, "orient": "none", "legendX": -41, "legendY": 290, "symbolStrokeColor": "black", "encode": {"symbols": {"update": {"stroke": {"value": "black"}, "strokeWidth": {"value": 1}}}}}}}}
    ]
  }
],
"resolve": {"scale": {"x": "independent", "y": "independent", "shape": "independent", "fill": "independent"}, "legend": {"shape": "independent", "fill": "independent"}}
}
